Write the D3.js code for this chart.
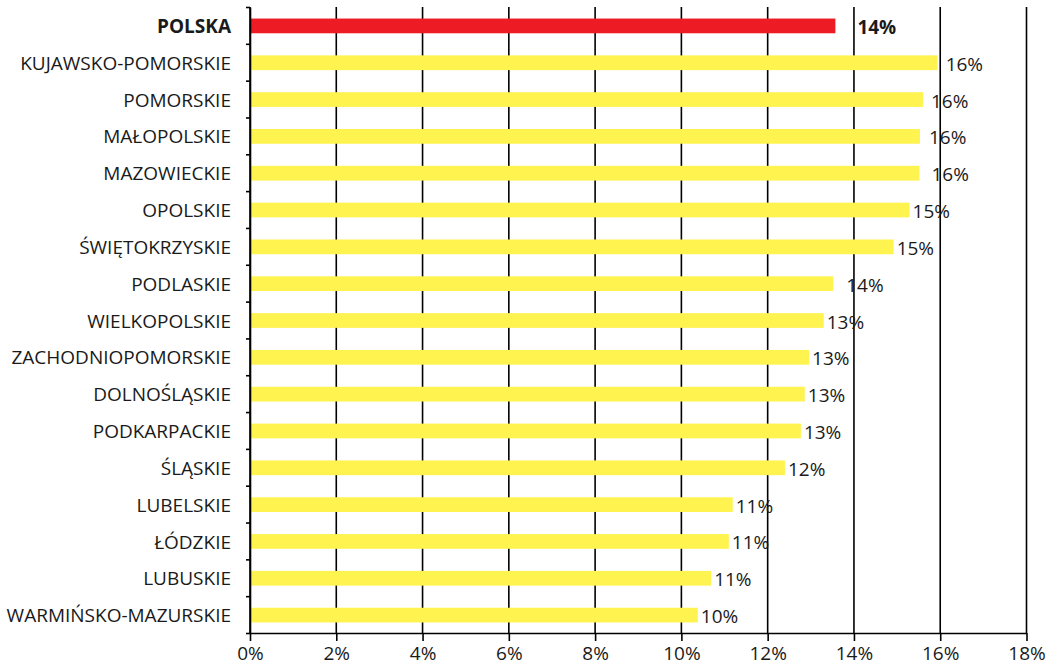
<!DOCTYPE html>
<html>
<head>
<meta charset="utf-8">
<script src="https://cdn.jsdelivr.net/npm/d3@7"></script>
<style>
  html, body { margin: 0; padding: 0; background: #fff; }
  svg { display: block; }
  text { font-family: "Open Sans", "Noto Sans", sans-serif; fill: #1a1a1a; }
</style>
</head>
<body>
<svg id="chart" width="1052" height="670"></svg>
<script>
// Regions, top to bottom, with share in percent
const regions = [
  "POLSKA", "KUJAWSKO-POMORSKIE", "POMORSKIE", "MAŁOPOLSKIE", "MAZOWIECKIE",
  "OPOLSKIE", "ŚWIĘTOKRZYSKIE", "PODLASKIE", "WIELKOPOLSKIE", "ZACHODNIOPOMORSKIE",
  "DOLNOŚLĄSKIE", "PODKARPACKIE", "ŚLĄSKIE", "LUBELSKIE", "ŁÓDZKIE", "LUBUSKIE",
  "WARMIŃSKO-MAZURSKIE"
];
const shares = [
  13.57, 15.94, 15.60, 15.53, 15.52,
  15.29, 14.92, 13.52, 13.30, 12.96,
  12.86, 12.77, 12.40, 11.19, 11.10, 10.69,
  10.38
];
const xTicks = [0, 2, 4, 6, 8, 10, 12, 14, 16, 18];
const totalLabel = "POLSKA";

// Extra horizontal spacing for a few value labels
const labelNudge = {
  "POLSKA": 19, "KUJAWSKO-POMORSKIE": 5, "POMORSKIE": 5, "MAŁOPOLSKIE": 6,
  "MAZOWIECKIE": 9, "PODLASKIE": 10
};

const svg = d3.select("#chart");
const plotLeft = 250, plotRight = 1026.5, plotTop = 7, plotBottom = 633;
const fontSize = "19px";

const x = d3.scaleLinear().domain([0, 18]).range([plotLeft, plotRight]);
const y = d3.scaleBand().domain(regions).range([plotTop, plotBottom]).paddingInner(0.6).paddingOuter(0.3);
const yEdge = d3.scaleLinear().domain([0, regions.length]).range([plotTop, plotBottom]);

// vertical gridlines
svg.append("g")
  .selectAll("line")
  .data(xTicks)
  .join("line")
  .attr("x1", d => x(d)).attr("x2", d => x(d))
  .attr("y1", plotTop).attr("y2", plotBottom)
  .attr("stroke", "#000").attr("stroke-width", 1.6);

// bars
svg.append("g")
  .selectAll("rect")
  .data(regions)
  .join("rect")
  .attr("x", x(0))
  .attr("y", d => y(d) + 0.5)
  .attr("width", (d, i) => x(shares[i]) - x(0))
  .attr("height", y.bandwidth())
  .attr("fill", d => d === totalLabel ? "#ED1C24" : "#FFF34F");

// bottom axis
const xAxis = svg.append("g")
  .attr("transform", `translate(0,${plotBottom})`)
  .call(d3.axisBottom(x).tickValues(xTicks).tickFormat(d => d + "%").tickSize(8).tickSizeOuter(0).tickPadding(6));
xAxis.selectAll("path, line").attr("stroke", "#000").attr("stroke-width", 1.6);
xAxis.selectAll("text").style("font-size", fontSize).style("font-family", "'Open Sans', sans-serif").attr("fill", "#1a1a1a");

// left axis: ticks at category boundaries
const yAxis = svg.append("g")
  .attr("transform", `translate(${plotLeft},0)`)
  .call(d3.axisLeft(yEdge).tickValues(d3.range(regions.length + 1)).tickFormat("").tickSize(4).tickSizeOuter(0));
yAxis.selectAll("path, line").attr("stroke", "#000").attr("stroke-width", 1.6);

// category labels
svg.append("g")
  .selectAll("text")
  .data(regions)
  .join("text")
  .attr("x", 231)
  .attr("y", d => y(d) + y.bandwidth() / 2)
  .attr("dy", "0.4em")
  .attr("text-anchor", "end")
  .style("font-size", fontSize)
  .style("font-weight", d => d === totalLabel ? "700" : "400")
  .text(d => d);

// value labels
svg.append("g")
  .selectAll("text")
  .data(regions)
  .join("text")
  .attr("x", (d, i) => x(shares[i]) + 3 + (labelNudge[d] || 0))
  .attr("y", d => y(d) + y.bandwidth() / 2)
  .attr("dy", "0.45em")
  .style("font-size", fontSize)
  .style("font-weight", d => d === totalLabel ? "700" : "400")
  .text((d, i) => Math.round(shares[i]) + "%");
</script>
</body>
</html>
